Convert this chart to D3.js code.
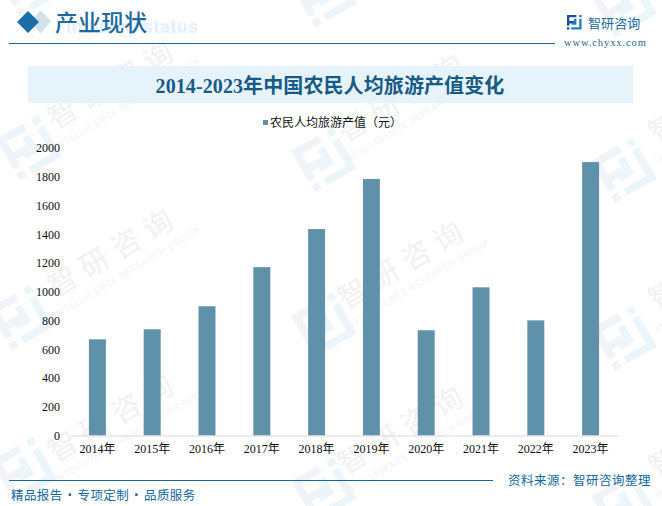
<!DOCTYPE html>
<html>
<head>
<meta charset="utf-8">
<title>2014-2023年中国农民人均旅游产值变化</title>
<style>
    html, body { margin: 0; padding: 0; background: #fff; }
    svg { display: block; }
</style>
</head>
<body>
<main></main>
<script src="https://cdn.jsdelivr.net/npm/d3@7"></script>
<script>
    var years = ["2014年", "2015年", "2016年", "2017年", "2018年", "2019年", "2020年", "2021年", "2022年", "2023年"];
    var output = [669, 739, 899, 1171, 1436, 1784, 732, 1031, 801, 1902];
    var yTicks = [0, 200, 400, 600, 800, 1000, 1200, 1400, 1600, 1800, 2000];
    var markLogos = [[30, -15], [325, -5], [625, 5], [30, 148], [325, 160], [625, 170], [22, 318], [325, 325], [625, 338], [25, 470], [325, 490], [625, 505]];
    var markTexts = [[119, 92], [409, 105], [720, 106], [119, 260], [409, 272], [720, 273], [119, 425], [409, 437], [720, 440]];

    var width = 662, height = 506;
    var svg = d3.select("main").append("svg")
        .attr("width", width).attr("height", height);

    var serif = "'Liberation Serif', 'Noto Sans CJK SC', serif";
    var plain = "'Noto Sans CJK SC', sans-serif";

    // logo: two interlocked brackets, also used for the watermark
    function logo(g, left, right) {
        g.append("path").attr("fill", left)
            .attr("d", "M0 0H20V5H5V13H15V18H5V23H0Z M0 26H5V31H0Z");
        g.append("path").attr("fill", right)
            .attr("d", "M26 0H31V5H26Z M26 8H31V31H9V26H26Z M20 8V21H10V16H15V8Z");
    }

    // 水印
    var marks = svg.append("g");
    markLogos.forEach(function (p) {
        var g = marks.append("g")
            .attr("transform", "translate(" + p[0] + "," + p[1] + ") rotate(-30) scale(1.55) translate(-16,-16)");
        logo(g, "#f0f3f7", "#ebf5fa");
    });
    markTexts.forEach(function (p) {
        var g = marks.append("g")
            .attr("transform", "translate(" + p[0] + "," + p[1] + ") rotate(-31)");
        g.append("text").attr("text-anchor", "middle")
            .attr("font-family", plain).attr("font-size", 29).attr("letter-spacing", 8)
            .attr("fill", "#f1f1f1").text("智研咨询");
        g.append("text").attr("text-anchor", "middle").attr("y", 18)
            .attr("font-family", "Roboto, sans-serif").attr("font-size", 9.5).attr("letter-spacing", 0.8)
            .attr("fill", "#f3f3f3").text("INTELLIGENCE RESEARCH GROUP");
    });

    // 页眉
    svg.append("path").attr("fill", "#d3e2ea").attr("d", "M40 11H41L51 21L41 33H40L30 22Z");
    svg.append("path").attr("fill", "#1a6ea8").attr("d", "M28 11L39 22L28 33L17 22Z");
    svg.append("text").attr("x", 66).attr("y", 33)
        .attr("font-family", "Roboto, sans-serif").attr("font-size", 18.2).attr("font-weight", 700)
        .attr("letter-spacing", 0.6).attr("fill", "#e4f1fa").text("Industry status");
    svg.append("text").attr("x", 55).attr("y", 31)
        .attr("font-family", serif).attr("font-size", 23).attr("font-weight", 500)
        .attr("fill", "#1a6a9e").text("产业现状");
    svg.append("line").attr("x1", 9).attr("x2", 555).attr("y1", 43.5).attr("y2", 43.5)
        .attr("stroke", "#1f6390").attr("stroke-width", 1);

    var brand = svg.append("g").attr("transform", "translate(567,15) scale(0.47)");
    logo(brand, "#1e4f91", "#1f7fc4");
    svg.append("text").attr("x", 588).attr("y", 28)
        .attr("font-family", plain).attr("font-size", 13).attr("letter-spacing", 0.1)
        .attr("fill", "#1f6b9c").text("智研咨询");
    svg.append("text").attr("x", 564).attr("y", 46)
        .attr("font-family", "'Liberation Serif', serif").attr("font-size", 10.5).attr("letter-spacing", 0.9)
        .attr("fill", "#1f6390").text("www.chyxx.com");

    // 标题
    svg.append("rect").attr("x", 28).attr("y", 66).attr("width", 605).attr("height", 37)
        .attr("fill", "#e6f3fb");
    svg.append("text").attr("x", 330).attr("y", 93).attr("text-anchor", "middle")
        .attr("font-family", serif).attr("font-size", 20).attr("font-weight", 700)
        .attr("letter-spacing", 0.1).attr("fill", "#175a86").text("2014-2023年中国农民人均旅游产值变化");

    // 图例
    svg.append("rect").attr("x", 263).attr("y", 120).attr("width", 5).attr("height", 5)
        .attr("fill", "#5f92aa");
    svg.append("text").attr("x", 270).attr("y", 127)
        .attr("font-family", plain).attr("font-size", 12).attr("fill", "#111")
        .text("农民人均旅游产值（元）");

    // 比例尺与坐标轴
    var x = d3.scaleBand().domain(years).range([70, 618]).paddingInner(0.69).paddingOuter(0.345);
    var y = d3.scaleLinear().domain([0, 2000]).range([435.5, 148]);

    svg.selectAll("rect.bar").data(output).enter().append("rect")
        .attr("class", "bar")
        .attr("x", function (d, i) { return x(years[i]); })
        .attr("y", function (d) { return y(d); })
        .attr("width", x.bandwidth())
        .attr("height", function (d) { return y(0) - y(d); })
        .attr("fill", "#5f92aa");

    var yAxis = svg.append("g").attr("transform", "translate(60,0)")
        .call(d3.axisLeft(y).tickValues(yTicks).tickFormat(d3.format("d")).tickSize(0).tickPadding(0));
    yAxis.select(".domain").remove();
    yAxis.selectAll("text")
        .attr("font-family", "'Liberation Serif', serif").attr("font-size", 12).attr("fill", "#111");

    var xAxis = svg.append("g").attr("transform", "translate(0,435.5)")
        .call(d3.axisBottom(x).tickSize(0).tickPadding(9));
    xAxis.select(".domain").attr("stroke", "#d9d9d9");
    xAxis.selectAll("text")
        .attr("font-family", serif).attr("font-size", 12).attr("fill", "#111");

    // 页脚
    svg.append("line").attr("x1", 9).attr("x2", 493).attr("y1", 480.5).attr("y2", 480.5)
        .attr("stroke", "#15679c").attr("stroke-width", 1);
    svg.append("text").attr("x", 11).attr("y", 500)
        .attr("font-family", plain).attr("font-size", 12.5).attr("letter-spacing", 0.4)
        .attr("word-spacing", -2.2)
        .attr("fill", "#15679c").text("精品报告 · 专项定制 · 品质服务");
    svg.append("text").attr("x", 508).attr("y", 485)
        .attr("font-family", plain).attr("font-size", 12.5).attr("letter-spacing", 0.5)
        .attr("fill", "#15679c").text("资料来源：智研咨询整理");
</script>
</body>
</html>
